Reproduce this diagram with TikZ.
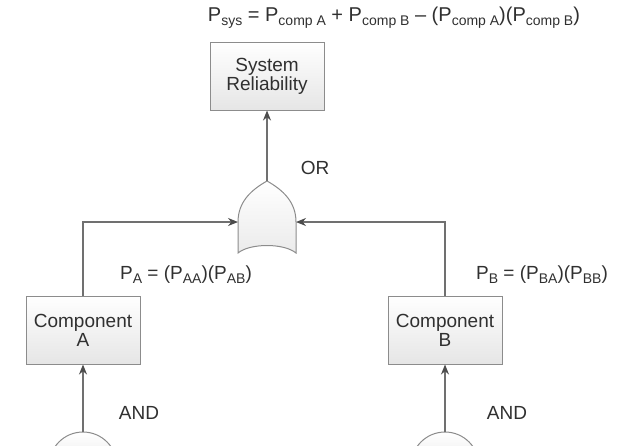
\documentclass[tikz,border=0pt]{standalone}
\usepackage{fontspec}
\setmainfont{Liberation Sans}
\usetikzlibrary{arrows.meta}
\definecolor{linegray}{HTML}{707070}
\definecolor{boxgray}{HTML}{8C8C8C}
\definecolor{txtgray}{HTML}{303030}
\newcommand\lsub[1]{\raisebox{-0.22em}{\fontsize{14}{15}\selectfont #1}}
\begin{document}
\begin{tikzpicture}[x=1pt,y=-1pt,line cap=butt,line join=miter,>={Stealth[length=10pt,width=8pt,color=black!70]},
	font=\fontsize{19}{22}\selectfont,text=txtgray]
	\tikzset{block/.style={draw=boxgray,line width=1pt,top color=white,bottom color=black!10,
			minimum width=114pt,minimum height=68pt,align=center,inner sep=2pt},
		flow/.style={draw=linegray,line width=1.2pt,->},
		gate/.style={draw=boxgray,line width=1pt,top color=white,bottom color=black!8},
		lbl/.style={inner sep=0pt}}
	\useasboundingbox (0,0) rectangle (631,445);
	\clip (0,0) rectangle (631,445);
	%--------- Khối
	\node[block] (sys) at (267,76) {System\\[-3pt]Reliability};
	\node[block] (compA) at (83,330) {Component\\[-3pt]A};
	\node[block] (compB) at (445,330) {Component\\[-3pt]B};
	%--------- Cổng OR
	\coordinate (ortip) at (267,181);
	\coordinate (orleft) at (238,222);
	\coordinate (orright) at (296,222);
	\path[gate] (238,253) -- (orleft) .. controls (238,202) and (251,190) .. (ortip)
		.. controls (283,190) and (296,202) .. (orright) -- (296,253)
		.. controls (284,243) and (250,243) .. cycle;
	\node[lbl] (orlbl) at (315,168) {OR};
	%--------- Cổng AND
	\path[gate] (49,466) arc[start angle=180,end angle=360,radius=34] -- cycle;
	\path[gate] (411,466) arc[start angle=180,end angle=360,radius=34] -- cycle;
	\coordinate (andA) at (83,432);
	\coordinate (andB) at (445,432);
	\node[lbl] (andAlbl) at (139,413) {AND};
	\node[lbl] (andBlbl) at (507,413) {AND};
	%--------- Mũi tên
	\draw[flow] (ortip) -- (sys.south);
	\draw[flow] (compA.north) |- (orleft);
	\draw[flow] (compB.north) |- (orright);
	\draw[flow] (andA) -- (compA.south);
	\draw[flow] (andB) -- (compB.south);
	%--------- Công thức
	\node[lbl,font=\fontsize{20}{22}\selectfont] (psys) at (394,18) {P\lsub{sys} = P\lsub{comp A} + P\lsub{comp B} -- (P\lsub{comp A})(P\lsub{comp B})};
	\node[lbl] (pa) at (186,275) {P\lsub{A} = (P\lsub{AA})(P\lsub{AB})};
	\node[lbl] (pb) at (542,275) {P\lsub{B} = (P\lsub{BA})(P\lsub{BB})};
\end{tikzpicture}
\end{document}
